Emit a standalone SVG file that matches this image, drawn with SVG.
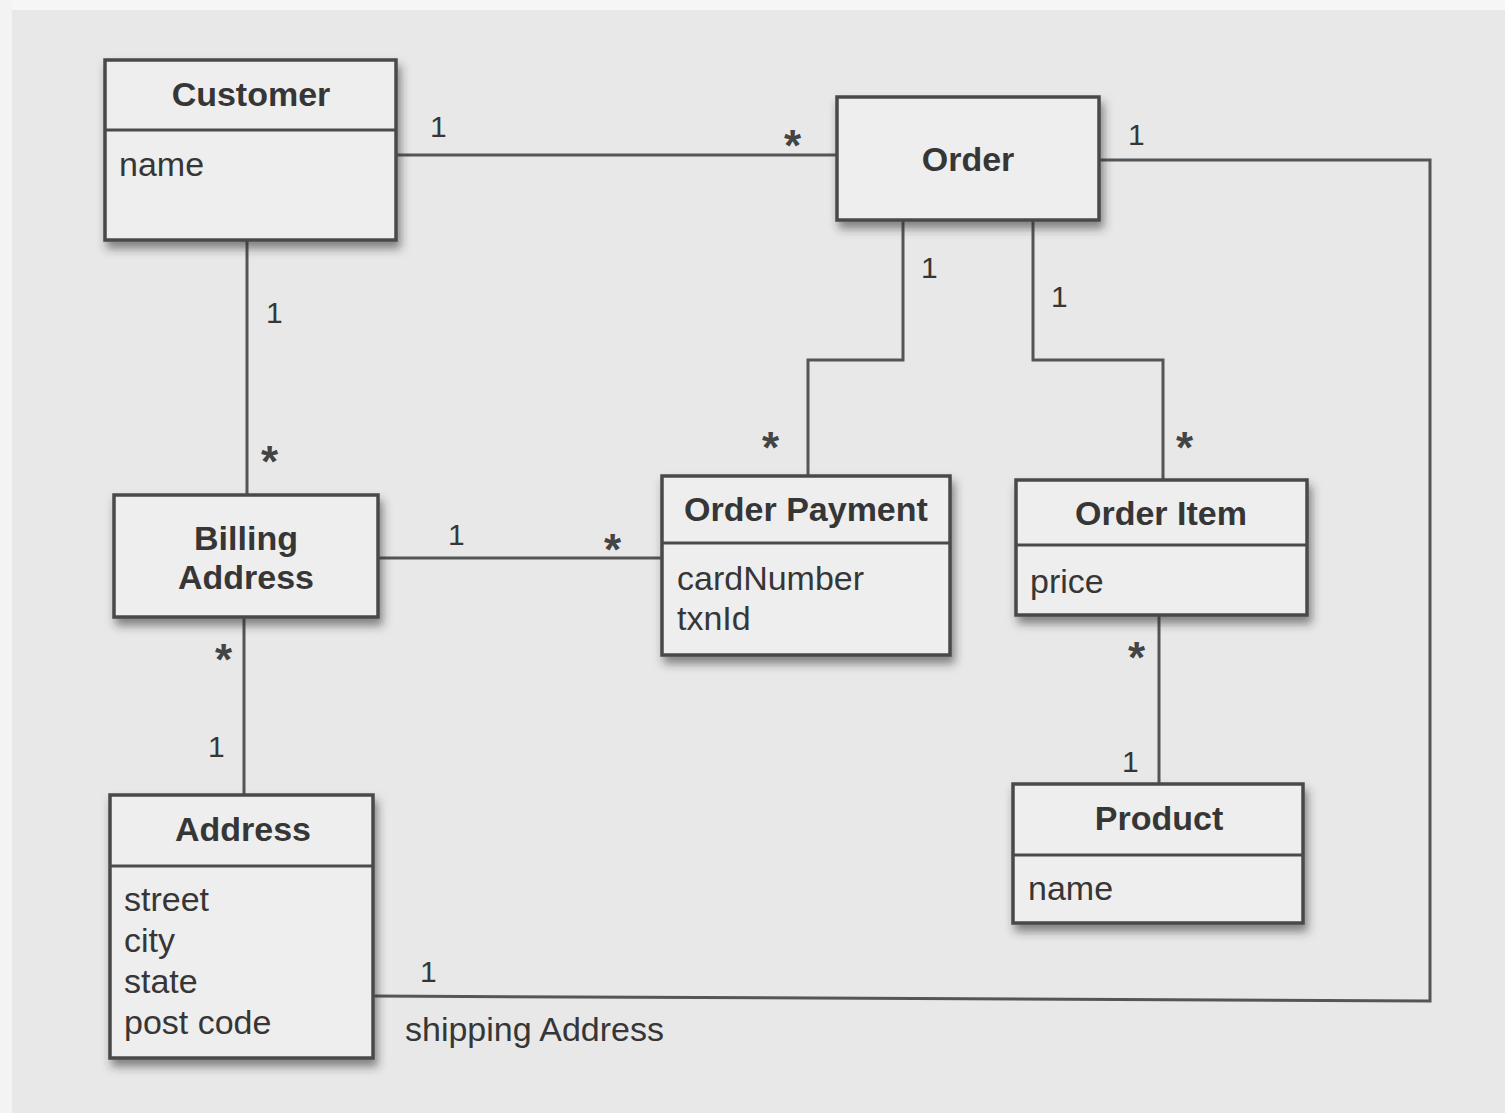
<svg xmlns="http://www.w3.org/2000/svg" width="1505" height="1113" viewBox="0 0 1505 1113">
<defs>
<filter id="sh" x="-10%" y="-10%" width="130%" height="140%">
<feDropShadow dx="3" dy="7" stdDeviation="5" flood-color="#333" flood-opacity="0.55"/>
</filter>
<style>
.box{fill:#eeeeee;stroke:#4a4a4a;stroke-width:3.5}
.div{stroke:#4a4a4a;stroke-width:3}
.ln{fill:none;stroke:#555;stroke-width:3}
.t{font-family:"Liberation Sans",Arial,sans-serif;font-weight:bold;font-size:34px;fill:#363636;text-anchor:middle}
.a{font-family:"Liberation Sans",Arial,sans-serif;font-size:34px;fill:#363636}
.m{font-family:"Liberation Sans",Arial,sans-serif;font-size:30px;fill:#363636}
.s{font-family:"Liberation Sans",Arial,sans-serif;font-weight:bold;font-size:44px;fill:#444}
</style>
</defs>
<rect x="0" y="0" width="1505" height="1113" fill="#e8e8e8"/>
<rect x="0" y="0" width="1505" height="10" fill="#f6f6f6"/>
<rect x="0" y="0" width="12" height="1113" fill="#f3f3f3"/>

<g id="connectors">
<polyline class="ln" points="396,155 837,155"/>
<polyline class="ln" points="1099,160 1430,160 1430,1001 373,996"/>
<polyline class="ln" points="247,240 247,495"/>
<polyline class="ln" points="244,617 244,795"/>
<polyline class="ln" points="378,558 662,558"/>
<polyline class="ln" points="903,220 903,360 808,360 808,476"/>
<polyline class="ln" points="1033,220 1033,360 1163,360 1163,480"/>
<polyline class="ln" points="1159,615 1159,784"/>
<text class="m" x="430" y="137">1</text>
<text class="s" x="784" y="161">*</text>
<text class="m" x="1128" y="145">1</text>
<text class="m" x="266" y="323">1</text>
<text class="s" x="261" y="477">*</text>
<text class="m" x="921" y="278">1</text>
<text class="m" x="1051" y="307">1</text>
<text class="s" x="762" y="463">*</text>
<text class="s" x="1176" y="463">*</text>
<text class="m" x="448" y="545">1</text>
<text class="s" x="604" y="565">*</text>
<text class="s" x="215" y="675">*</text>
<text class="m" x="208" y="757">1</text>
<text class="s" x="1128" y="673">*</text>
<text class="m" x="1122" y="772">1</text>
<text class="m" x="420" y="982">1</text>
<text class="a" x="405" y="1041">shipping Address</text>
</g>

<g id="customer">
<rect class="box" filter="url(#sh)" x="105" y="60" width="291" height="180"/>
<line class="div" x1="105" y1="130" x2="396" y2="130"/>
<text class="t" x="251" y="106">Customer</text>
<text class="a" x="119" y="176">name</text>
</g>

<g id="order">
<rect class="box" filter="url(#sh)" x="837" y="97" width="262" height="123"/>
<text class="t" x="968" y="171">Order</text>
</g>

<g id="billing-address">
<rect class="box" filter="url(#sh)" x="114" y="495" width="264" height="122"/>
<text class="t" x="246" y="550">Billing</text>
<text class="t" x="246" y="589">Address</text>
</g>

<g id="order-payment">
<rect class="box" filter="url(#sh)" x="662" y="476" width="288" height="179"/>
<line class="div" x1="662" y1="543" x2="950" y2="543"/>
<text class="t" x="806" y="521">Order Payment</text>
<text class="a" x="677" y="590">cardNumber</text>
<text class="a" x="677" y="630">txnId</text>
</g>

<g id="order-item">
<rect class="box" filter="url(#sh)" x="1016" y="480" width="291" height="135"/>
<line class="div" x1="1016" y1="545" x2="1307" y2="545"/>
<text class="t" x="1161" y="525">Order Item</text>
<text class="a" x="1030" y="593">price</text>
</g>

<g id="product">
<rect class="box" filter="url(#sh)" x="1013" y="784" width="290" height="139"/>
<line class="div" x1="1013" y1="855" x2="1303" y2="855"/>
<text class="t" x="1159" y="830">Product</text>
<text class="a" x="1028" y="900">name</text>
</g>

<g id="address">
<rect class="box" filter="url(#sh)" x="110" y="795" width="263" height="263"/>
<line class="div" x1="110" y1="866" x2="373" y2="866"/>
<text class="t" x="243" y="841">Address</text>
<text class="a" x="124" y="911">street</text>
<text class="a" x="124" y="952">city</text>
<text class="a" x="124" y="993">state</text>
<text class="a" x="124" y="1034">post code</text>
</g>
</svg>
